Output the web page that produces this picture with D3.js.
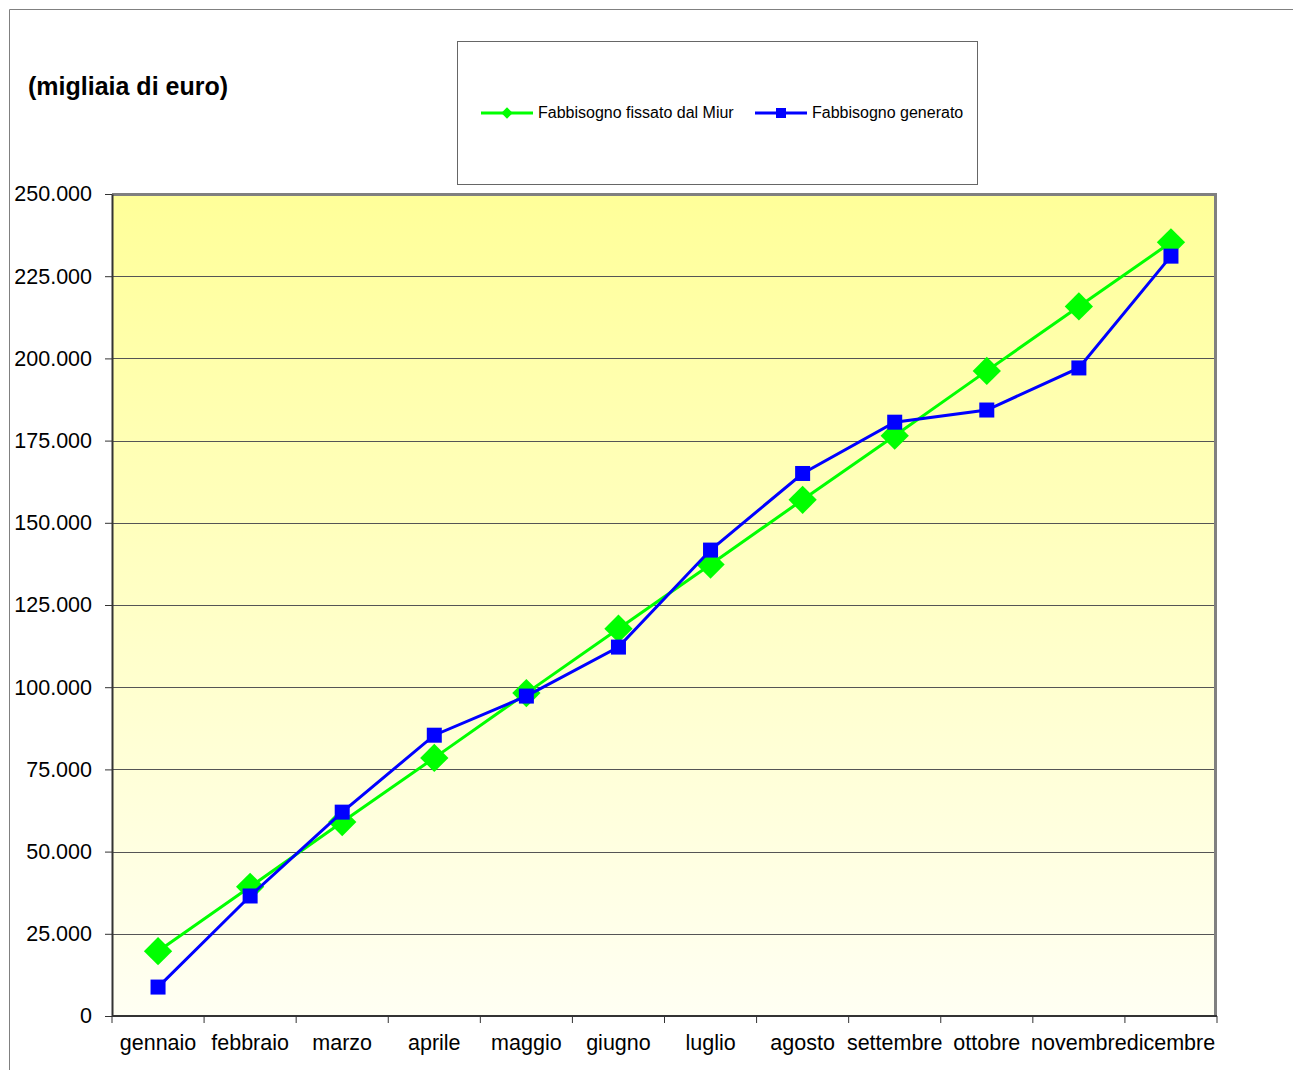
<!DOCTYPE html>
<html>
<head>
<meta charset="utf-8">
<script src="https://cdn.jsdelivr.net/npm/d3@7"></script>
<style>
  body { margin: 0; background: #fff; }
  svg { display: block; font-family: "Liberation Sans", Arial, sans-serif; }
</style>
</head>
<body>
<div id="wrapper"></div>
<script>
const months = ["gennaio", "febbraio", "marzo", "aprile", "maggio", "giugno",
    "luglio", "agosto", "settembre", "ottobre", "novembre", "dicembre"];
const fissatoMiur = [19700, 39300, 59000, 78500, 98200, 117800,
    137300, 157000, 176500, 196200, 215800, 235300];
const generato = [8800, 36500, 62000, 85400, 97300, 112200,
    141700, 165000, 180600, 184300, 197100, 231100];
const yTicks = [0, 25000, 50000, 75000, 100000, 125000, 150000, 175000, 200000, 225000, 250000];
const seriesNames = ["Fabbisogno fissato dal Miur", "Fabbisogno generato"];

const dimension = {
    width: 1293,
    height: 1070,
    margin: { top: 194, left: 112, bottom: 54, right: 76 }
};
dimension.boundedWidth = dimension.width - dimension.margin.left - dimension.margin.right;
dimension.boundedHeight = dimension.height - dimension.margin.top - dimension.margin.bottom;

const svg = d3.select("#wrapper").append("svg")
    .attr("width", dimension.width)
    .attr("height", dimension.height);

// outer chart frame
svg.append("path")
    .attr("d", "M9.5,1070 V9.5 H1293")
    .attr("fill", "none")
    .attr("stroke", "#808080")
    .attr("stroke-width", 1);

const defs = svg.append("defs");
const grad = defs.append("linearGradient")
    .attr("id", "bg").attr("x1", 0).attr("y1", 0).attr("x2", 0).attr("y2", 1);
grad.append("stop").attr("offset", "0%").attr("stop-color", "#ffff99");
grad.append("stop").attr("offset", "100%").attr("stop-color", "#fffff3");

const bounded = svg.append("g")
    .attr("transform", `translate(${dimension.margin.left},${dimension.margin.top})`);

const xScaler = d3.scaleBand()
    .domain(months)
    .range([0, dimension.boundedWidth]);

const yScaler = d3.scaleLinear()
    .domain([0, 250000])
    .range([dimension.boundedHeight, 0]);

// plot background
bounded.append("rect")
    .attr("width", dimension.boundedWidth)
    .attr("height", dimension.boundedHeight)
    .attr("fill", "url(#bg)");

// gridlines
bounded.append("g")
    .selectAll("line")
    .data(yTicks.slice(1, -1))
    .join("line")
    .attr("x1", 0)
    .attr("x2", dimension.boundedWidth)
    .attr("y1", d => Math.round(yScaler(d)) + 0.5)
    .attr("y2", d => Math.round(yScaler(d)) + 0.5)
    .attr("stroke", "#555")
    .attr("stroke-width", 1);

// gray border on top and right
bounded.append("path")
    .attr("d", `M0,0.5 H${dimension.boundedWidth - 1.5} V${dimension.boundedHeight}`)
    .attr("fill", "none")
    .attr("stroke", "#808080")
    .attr("stroke-width", 3);

// axes
const fmt = d => d === 0 ? "0" : d3.format(",")(d).replace(/,/g, ".");

const yAxisGroup = bounded.append("g")
    .call(d3.axisLeft(yScaler).tickValues(yTicks).tickFormat(fmt).tickSize(7).tickSizeOuter(0));
yAxisGroup.select(".domain").attr("stroke", "#333").attr("stroke-width", 2);
yAxisGroup.selectAll(".tick line").attr("stroke", "#333");
yAxisGroup.selectAll(".tick text")
    .attr("x", -20)
    .attr("font-size", 21.5)
    .attr("font-family", "Liberation Sans, Arial, sans-serif")
    .attr("fill", "#000");

const xAxisGroup = bounded.append("g")
    .attr("transform", `translate(0,${dimension.boundedHeight})`);
xAxisGroup.append("line")
    .attr("x1", 0).attr("x2", dimension.boundedWidth)
    .attr("y1", 0).attr("y2", 0)
    .attr("stroke", "#333").attr("stroke-width", 2);
xAxisGroup.selectAll(".xtick")
    .data(months.concat(["end"]))
    .join("line")
    .attr("class", "xtick")
    .attr("x1", (d, i) => i < months.length ? xScaler(d) : dimension.boundedWidth)
    .attr("x2", (d, i) => i < months.length ? xScaler(d) : dimension.boundedWidth)
    .attr("y1", 0).attr("y2", 7)
    .attr("stroke", "#333");
xAxisGroup.selectAll(".xlabel")
    .data(months)
    .join("text")
    .attr("class", "xlabel")
    .attr("x", d => xScaler(d) + xScaler.bandwidth() / 2)
    .attr("y", 34)
    .attr("text-anchor", "middle")
    .attr("font-size", 21.5)
    .attr("fill", "#000")
    .text(d => d);

// lines
const cx = d => xScaler(d) + xScaler.bandwidth() / 2;
const line = d3.line().x(d => cx(d.m)).y(d => yScaler(d.v));

const greenData = months.map((m, i) => ({ m, v: fissatoMiur[i] }));
const blueData = months.map((m, i) => ({ m, v: generato[i] }));

bounded.append("path")
    .datum(greenData)
    .attr("d", line)
    .attr("fill", "none")
    .attr("stroke", "#00ff00")
    .attr("stroke-width", 3);

bounded.append("g")
    .selectAll("rect")
    .data(greenData)
    .join("rect")
    .attr("x", -10).attr("y", -10)
    .attr("width", 20).attr("height", 20)
    .attr("transform", d => `translate(${cx(d.m)},${yScaler(d.v)}) rotate(45)`)
    .attr("fill", "#00ff00");

bounded.append("path")
    .datum(blueData)
    .attr("d", line)
    .attr("fill", "none")
    .attr("stroke", "#0000ff")
    .attr("stroke-width", 3);

bounded.append("g")
    .selectAll("rect")
    .data(blueData)
    .join("rect")
    .attr("x", d => cx(d.m) - 7.5)
    .attr("y", d => yScaler(d.v) - 7.5)
    .attr("width", 15).attr("height", 15)
    .attr("fill", "#0000ff");

// title
svg.append("text")
    .attr("x", 28)
    .attr("y", 95)
    .attr("font-size", 25)
    .attr("font-weight", "bold")
    .attr("fill", "#000")
    .text("(migliaia di euro)");

// legend
const legend = svg.append("g");
legend.append("rect")
    .attr("x", 457.5).attr("y", 41.5)
    .attr("width", 520).attr("height", 143)
    .attr("fill", "#fff")
    .attr("stroke", "#666");

const legendItems = [
    { name: seriesNames[0], color: "#00ff00", shape: "diamond", x: 481 },
    { name: seriesNames[1], color: "#0000ff", shape: "square", x: 755 }
];
const li = legend.selectAll(".item")
    .data(legendItems)
    .join("g")
    .attr("class", "item")
    .attr("transform", d => `translate(${d.x},113)`);
li.append("line")
    .attr("x1", 0).attr("x2", 52)
    .attr("stroke", d => d.color).attr("stroke-width", 3);
li.filter(d => d.shape === "diamond").append("rect")
    .attr("x", -4).attr("y", -4).attr("width", 8).attr("height", 8)
    .attr("transform", "translate(26,0) rotate(45)")
    .attr("fill", d => d.color);
li.filter(d => d.shape === "square").append("rect")
    .attr("x", 21).attr("y", -5).attr("width", 10).attr("height", 10)
    .attr("fill", d => d.color);
li.append("text")
    .attr("x", 57).attr("y", 5)
    .attr("font-size", 16)
    .attr("fill", "#000")
    .text(d => d.name);
</script>
</body>
</html>
